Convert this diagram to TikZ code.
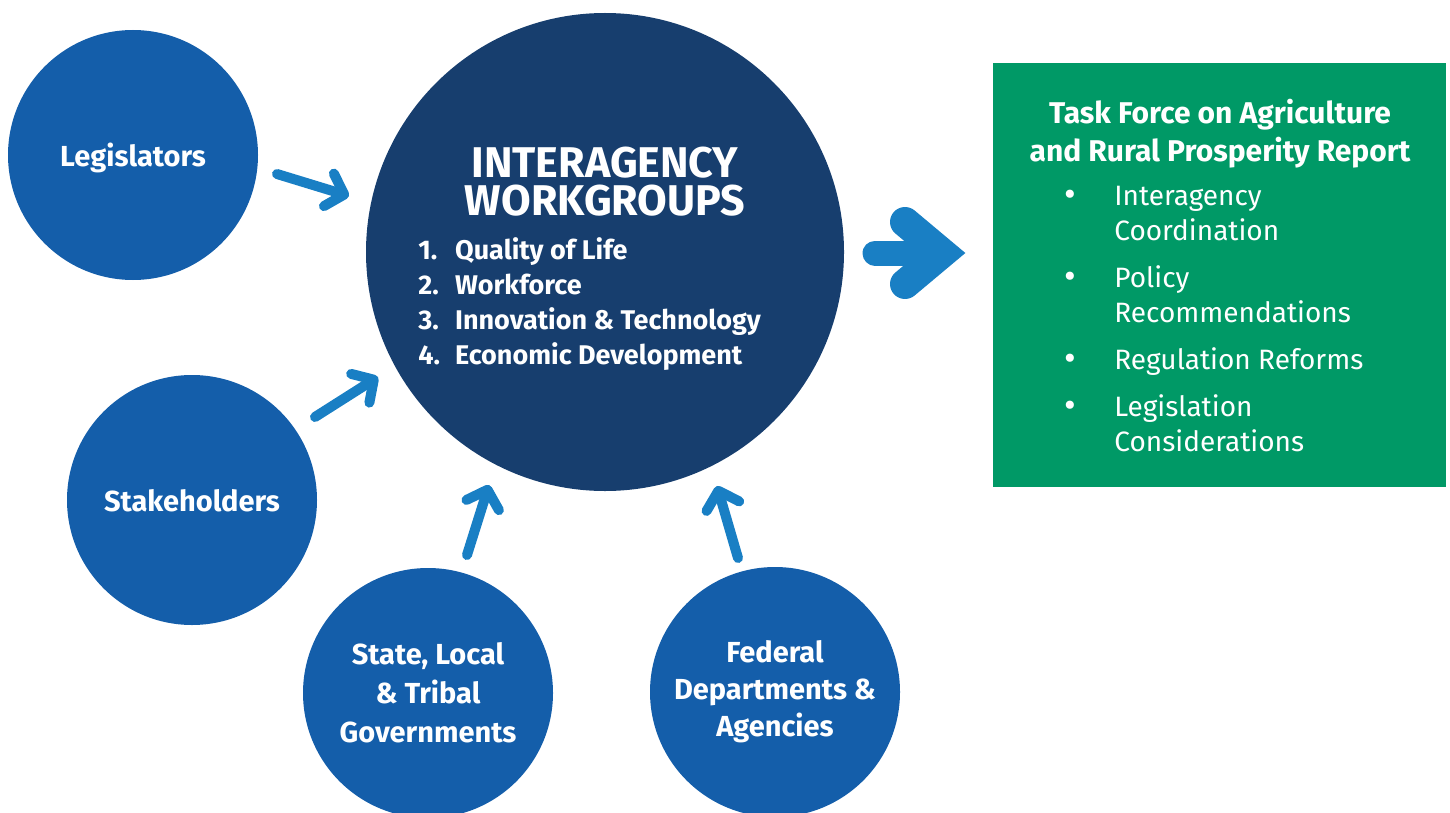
\documentclass[tikz,border=0pt]{standalone}
\usepackage{fontspec}
\setmainfont{Fira Sans}
\usetikzlibrary{arrows.meta}

\definecolor{partyblue}{RGB}{20,94,170}
\definecolor{hubnavy}{RGB}{23,62,110}
\definecolor{feedblue}{RGB}{25,127,196}
\definecolor{reportgreen}{RGB}{0,153,102}

\newcommand{\dotmark}{\raisebox{-0.5pt}{\fontsize{18}{18}\selectfont\textbullet}}

\tikzset{
  party/.style={circle, fill=partyblue, minimum size=125pt, inner sep=0pt,
    text=white, align=center, font=\bfseries\fontsize{14.5}{19.5}\selectfont},
  hub/.style={circle, fill=hubnavy, minimum size=239pt, inner sep=0pt},
  hubtitle/.style={text=white, anchor=base, inner sep=0pt,
    font=\bfseries\fontsize{21.5}{21.5}\selectfont},
  report/.style={rectangle, fill=reportgreen, minimum width=226.5pt,
    minimum height=212pt, inner sep=0pt},
  feed/.style={draw=feedblue, line width=5pt, line cap=round,
    -{Straight Barb[length=8pt,width=17pt,round]}},
}

\begin{document}
\begin{tikzpicture}[x=0.5pt,y=-0.5pt]
  \useasboundingbox (0,0) rectangle (1450,813);
  % circles
  \node[party, text depth=0pt] (leg) at (133,155) {Legislators};
  \node[party, text depth=0pt] (stake) at (192,500) {Stakeholders};
  \node[party] (gov) at (428,693) {State, Local\\\& Tribal\\Governments};
  \node[party, font=\bfseries\fontsize{14.5}{18.5}\selectfont] (fed) at (775,692)
    {Federal\\Departments \&\\Agencies};
  \node[hub] (iw) at (605,252) {};
  \node[hubtitle] (iwtitleA) at (605,177) {INTERAGENCY};
  \node[hubtitle] (iwtitleB) at (605,215) {WORKGROUPS};
  \node[text=white, anchor=north west, inner sep=0pt,
    font=\bfseries\fontsize{13.5}{17.5}\selectfont] (iwlist) at (418,235)
    {\begin{tabular}{@{}l@{\hspace{7.5pt}}l@{}}
      1. & Quality of Life\\
      2. & Workforce\\
      3. & Innovation \& Technology\\
      4. & Economic Development
    \end{tabular}};
  % report box
  \node[report] (tf) at (1219.5,275) {};
  \node[text=white, align=center, anchor=north,
    font=\bfseries\fontsize{15}{19}\selectfont] (tftitle) at (1220,92)
    {Task Force on Agriculture\\and Rural Prosperity Report};
  \node[text=white, anchor=north west, inner sep=0pt,
    font=\fontsize{14}{17.5}\selectfont] (tflist) at (1064,181)
    {\begin{tabular}{@{}p{25pt}@{}l@{}}
      \dotmark & Interagency\\
               & Coordination\\[6pt]
      \dotmark & Policy\\
               & Recommendations\\[6pt]
      \dotmark & Regulation Reforms\\[6pt]
      \dotmark & Legislation\\
               & Considerations
    \end{tabular}};
  % arrows
  \coordinate (legA) at (277,174);
  \coordinate (legB) at (349,196);
  \coordinate (stakeA) at (315,417);
  \coordinate (stakeB) at (378,377);
  \coordinate (govA) at (467,555);
  \coordinate (govB) at (489,485);
  \coordinate (fedA) at (738,558);
  \coordinate (fedB) at (717,486);
  \draw[feed] (legA) -- (legB);
  \draw[feed] (stakeA) -- (stakeB);
  \draw[feed] (govA) -- (govB);
  \draw[feed] (fedA) -- (fedB);
  % big arrow
  \coordinate (bigA) at (875,253);
  \coordinate (bigB) at (930,253);
  \coordinate (bigTip) at (942,253);
  \draw[feedblue, line width=12.5pt, line cap=round] (bigA) -- (bigB);
  \draw[feedblue, line width=15pt, line cap=round, line join=miter]
    (905,222) -- (bigTip) -- (905,284);
\end{tikzpicture}
\end{document}
